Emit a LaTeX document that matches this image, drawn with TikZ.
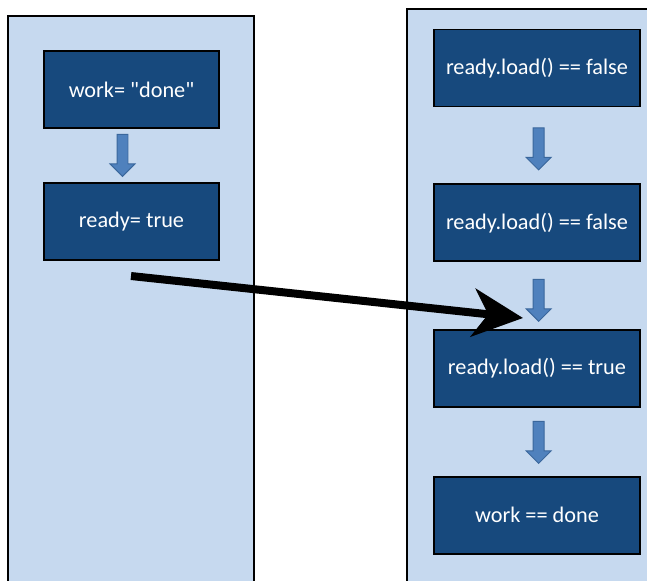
\documentclass[tikz,border=0pt]{standalone}
\usepackage{fontspec}
\setmainfont{Carlito}[Ligatures=TeXOff]
\usetikzlibrary{positioning,shapes.arrows,arrows.meta}
\definecolor{panelblue}{HTML}{C6D9EF}
\definecolor{boxblue}{HTML}{17497D}
\definecolor{flowblue}{HTML}{4F81BD}
\definecolor{flowedge}{HTML}{3A679C}
\begin{document}
\begin{tikzpicture}[x=0.03cm,y=-0.03cm,line join=miter,font=\fontsize{19}{22}\selectfont]
	\tikzset{panel/.style={draw=black,line width=1.7pt,fill=panelblue},
		opbox/.style={draw=black,line width=1.5pt,fill=boxblue,text=white,
			inner sep=0pt,minimum height=2.31cm},
		flow/.style={single arrow,draw=flowedge,fill=flowblue,line width=0.8pt,
			shape border rotate=270,inner sep=0.15cm,
			minimum height=1.26cm,single arrow head extend=0.21cm}}
	\useasboundingbox (0,0) rectangle (647,580);
	\clip (0,0) rectangle (647,580);
	% the two threads
	\draw[panel] (8,16) rectangle (254,600);
	\draw[panel] (407,9) rectangle (680,600);
	% writer
	\node[opbox,minimum width=5.25cm] (store) at (131.5,89.5) {work= "done"};
	\node[opbox,minimum width=5.25cm,below=1.59cm of store] (release) {ready= true};
	\node[flow,below=0.15cm of store,xshift=-0.27cm] (w1) {};
	% reader
	\node[opbox,minimum width=6.18cm] (poll1) at (537,68) {ready.load() == false};
	\node[opbox,minimum width=6.18cm,below=2.28cm of poll1] (poll2) {ready.load() == false};
	\node[opbox,minimum width=6.18cm,below=2.01cm of poll2] (poll3) {ready.load() == true};
	\node[opbox,minimum width=6.18cm,below=2.04cm of poll3] (use) {work == done};
	\node[flow,below=0.6cm of poll1,xshift=0.05cm] (r1) {};
	\node[flow,below=0.5cm of poll2,xshift=0.05cm] (r2) {};
	\node[flow,below=0.39cm of poll3,xshift=0.05cm] (r3) {};
	% synchronizes-with
	\coordinate (sent) at (131,276);
	\coordinate (seen) at (523,318);
	\draw[line width=0.24cm,-{Stealth[length=1.5cm,width=1.44cm,inset=0.45cm]}] (sent)--(seen);
\end{tikzpicture}
\end{document}
